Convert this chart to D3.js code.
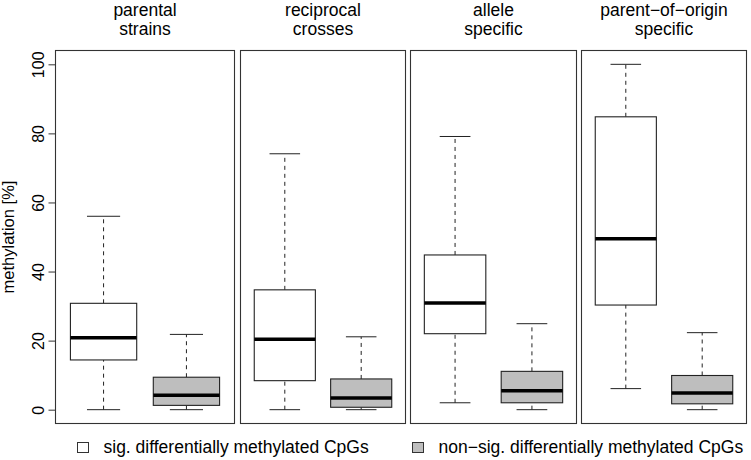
<!DOCTYPE html>
<html>
<head>
<meta charset="utf-8">
<script src="https://cdn.jsdelivr.net/npm/d3@7"></script>
<style>
	body { margin: 0; background: #fff; }
	svg { display: block; font-family: "Liberation Sans", Arial, Helvetica, sans-serif; }
</style>
</head>
<body>
<svg></svg>
<script>
const panelTitles = [
	["parental", "strains"],
	["reciprocal", "crosses"],
	["allele", "specific"],
	["parent−of−origin", "specific"]
];
const groups = ["sig. differentially methylated CpGs", "non−sig. differentially methylated CpGs"];
const groupFill = ["#ffffff", "#bebebe"];

// lower whisker, Q1, median, Q3, upper whisker (per panel)
const sigStats = [
	[0, 14.4, 20.8, 30.8, 56],
	[0, 8.4, 20.4, 34.7, 74.1],
	[2, 22, 30.9, 44.8, 79.1],
	[6.1, 30.3, 49.5, 84.8, 100]
];
const nonSigStats = [
	[0, 1.25, 4.2, 9.4, 21.8],
	[0, 0.7, 3.4, 8.9, 21.1],
	[0, 2, 5.5, 11.1, 24.9],
	[0, 1.7, 4.8, 9.9, 22.3]
];
const yTicks = [0, 20, 40, 60, 80, 100];
const yLabel = "methylation [%]";

const width = 751;
const height = 460;
const plotTop = 50.5;
const plotBottom = 423.5;
const panels = [
	{ left: 55.5, right: 234.5 },
	{ left: 240.5, right: 405.5 },
	{ left: 410.5, right: 576.5 },
	{ left: 581.5, right: 746.5 }
];
const lineColor = "#222";

const svg = d3.select("svg")
	.attr("width", width)
	.attr("height", height);

const y = d3.scaleLinear()
	.domain([-4, 104])
	.range([plotBottom, plotTop]);

panels.forEach((p, i) => {
	const x = d3.scaleLinear()
		.domain([0.42, 2.58])
		.range([p.left, p.right]);
	const boxW = x(1.8) - x(1);
	const capW = boxW / 2;
	const stats = [sigStats[i], nonSigStats[i]];
	const cx = (p.left + p.right) / 2;

	const g = svg.append("g");

	const box = g.selectAll(".box")
		.data(stats)
		.join("g")
		.attr("class", "box")
		.attr("transform", (d, j) => `translate(${x(j + 1)},0)`);

	// whiskers
	box.append("line")
		.attr("y1", d => y(d[0]))
		.attr("y2", d => y(d[1]))
		.attr("stroke", lineColor)
		.attr("stroke-dasharray", "4,4");
	box.append("line")
		.attr("y1", d => y(d[3]))
		.attr("y2", d => y(d[4]))
		.attr("stroke", lineColor)
		.attr("stroke-dasharray", "4,4");

	// caps
	box.selectAll(".cap")
		.data(d => [d[0], d[4]])
		.join("line")
		.attr("class", "cap")
		.attr("x1", -capW / 2)
		.attr("x2", capW / 2)
		.attr("y1", v => y(v))
		.attr("y2", v => y(v))
		.attr("stroke", lineColor);

	box.append("rect")
		.attr("x", -boxW / 2)
		.attr("width", boxW)
		.attr("y", d => y(d[3]))
		.attr("height", d => y(d[1]) - y(d[3]))
		.attr("fill", (d, j) => groupFill[j])
		.attr("stroke", lineColor)
		.attr("stroke-width", 1.1);

	box.append("line")
		.attr("x1", -boxW / 2)
		.attr("x2", boxW / 2)
		.attr("y1", d => y(d[2]))
		.attr("y2", d => y(d[2]))
		.attr("stroke", "#000")
		.attr("stroke-width", 3.5);

	g.append("rect")
		.attr("x", p.left)
		.attr("y", plotTop)
		.attr("width", p.right - p.left)
		.attr("height", plotBottom - plotTop)
		.attr("fill", "none")
		.attr("stroke", "#333")
		.attr("stroke-width", 1.1);

	g.selectAll(".title")
		.data(panelTitles[i])
		.join("text")
		.attr("class", "title")
		.attr("x", cx)
		.attr("y", (d, k) => 16 + k * 19)
		.attr("text-anchor", "middle")
		.attr("font-size", 17.5)
		.text(d => d);
});

// y axis on the first panel
const axis = svg.append("g")
	.attr("transform", `translate(${panels[0].left},0)`)
	.call(d3.axisLeft(y).tickValues(yTicks).tickSize(7).tickSizeOuter(0));
axis.attr("font-family", null).attr("font-size", null);
axis.select(".domain").remove();
axis.selectAll(".tick line").attr("stroke", "#333");
axis.selectAll(".tick text")
	.attr("transform", "rotate(-90)")
	.attr("x", 0)
	.attr("y", -11.8)
	.attr("dy", 0)
	.attr("text-anchor", "middle")
	.attr("font-size", 16)
	.attr("fill", "#000");

svg.append("text")
	.attr("transform", `translate(14,${(plotTop + plotBottom) / 2}) rotate(-90)`)
	.attr("text-anchor", "middle")
	.attr("font-size", 16.5)
	.text(yLabel);

// legend
const legendX = [77, 412];
const legend = svg.selectAll(".legend")
	.data(groups)
	.join("g")
	.attr("class", "legend")
	.attr("transform", (d, j) => `translate(${legendX[j]},442)`);
legend.append("rect")
	.attr("x", 0.5)
	.attr("y", 0.5)
	.attr("width", 11)
	.attr("height", 10)
	.attr("fill", (d, j) => groupFill[j])
	.attr("stroke", "#333");
legend.append("text")
	.attr("x", 26.5)
	.attr("y", 10.5)
	.attr("font-size", 17.5)
	.text(d => d);
</script>
</body>
</html>
